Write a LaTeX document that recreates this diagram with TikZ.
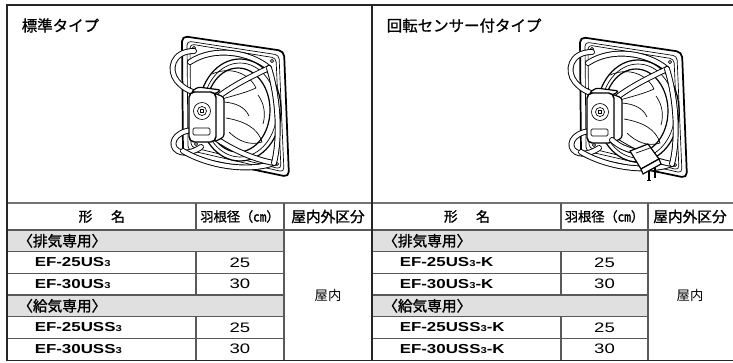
\documentclass[tikz,border=0pt]{standalone}
\usepackage{fontspec}
\setmainfont{Noto Sans CJK JP}
\newfontfamily\jpbold{Noto Sans CJK JP}[FakeBold=1.3]
\newfontfamily\jpmed{Noto Sans CJK JP}[FakeBold=0.9]
\newfontfamily\latwide{Liberation Sans}[FakeStretch=1.3]
\newfontfamily\numwide{Liberation Sans}[FakeStretch=1.35]
\newcommand{\smallthree}{{\fontsize{6.5}{7}\selectfont 3}}
\colorlet{rowgray}{black!12}
\tikzset{
  frame/.style={line width=1.4pt, draw=black!85},
  gridline/.style={line width=0.8pt, draw=black!65},
  gridtop/.style={line width=1.2pt, draw=black!55},
  titletext/.style={font=\jpmed\fontsize{11.6}{13}\selectfont, inner sep=0pt, anchor=west},
  hdr/.style={font=\jpbold\fontsize{10.3}{12}\selectfont, inner sep=0pt},
  grp/.style={font=\jpbold\fontsize{11}{12}\selectfont, inner sep=0pt, anchor=west},
  model/.style={font=\latwide\bfseries\fontsize{9.75}{11}\selectfont, inner sep=0pt, anchor=west},
  numtext/.style={font=\numwide\fontsize{10.3}{11}\selectfont, inner sep=0pt},
  jptext/.style={font=\fontsize{10}{11}\selectfont, inner sep=0pt},
  fanline/.style={line width=0.9pt, draw=black, line join=round},
  fanthin/.style={line width=0.5pt, draw=black, line join=round},
  tube/.style={draw=black, line width=0.7pt, double=white, double distance=3pt, line cap=round}
}
\newcommand{\fanbody}{%
  % back plate
  \draw[fanline, line width=1.3pt, fill=white, rounded corners=4pt] (182,36) -- (284,51) -- (289,177) -- (183,155) -- cycle;
  \draw[fanthin, rounded corners=3pt] (187,41) -- (279,55) -- (284,172) -- (188,150) -- cycle;
  \draw[fanthin, rounded corners=3pt] (190,44) -- (276,58) -- (281,169) -- (191,147) -- cycle;
  \foreach \p in {(194,48),(272,61),(277,164),(196,144)} \draw[fanthin] \p circle (1.6);
  % ring
  \draw[fanline, fill=white] (240,110) ellipse [x radius=41, y radius=51];
  \draw[fanthin] (240,110) ellipse [x radius=37, y radius=47];
  \draw[fanline] (238,110) ellipse [x radius=32, y radius=42];
  % blades
  \draw[fanthin] (212,74) .. controls (230,66) and (249,73) .. (256,88) .. controls (245,93) and (232,96) .. (222,99);
  \draw[fanthin] (226,118) .. controls (244,121) and (258,128) .. (262,142) .. controls (250,146) and (238,141) .. (229,132);
  \draw[fanthin] (224,102) .. controls (236,103) and (245,107) .. (249,116);
  \draw[fanthin] (258,95) .. controls (264,103) and (266,114) .. (263,124);
  % guard tubes
  \draw[tube] (194,51) .. controls (172,51) and (168,70) .. (177,81) .. controls (183,88) and (190,92) .. (198,93);
  \draw[tube] (190,62) .. controls (214,46) and (250,52) .. (269,68);
  \draw[tube] (269,68) .. controls (252,76) and (232,86) .. (218,97);
  \draw[tube] (192,130) .. controls (173,132) and (169,146) .. (178,151) .. controls (185,155) and (195,151) .. (201,147);
  \draw[tube] (183,151) .. controls (210,167) and (250,172) .. (274,163);
  \draw[tube] (214,137) .. controls (232,150) and (256,160) .. (274,163);
  \draw[tube] (274,163) .. controls (280,140) and (279,100) .. (269,68);
  % motor
  \draw[fanline, fill=white, rounded corners=2pt] (214,93) -- (224,97) -- (224,137) -- (214,142) -- cycle;
  \draw[fanline, fill=white, rounded corners=2pt] (191,92) -- (198,87) -- (221,90) -- (215,94) -- cycle;
  \draw[fanline, line width=1.1pt, fill=white, rounded corners=4pt] (189,92) rectangle (216,142);
  \draw[fanthin] (202,111) circle (8.5);
  \draw[fanthin] (202,111) circle (4.5);
  \draw[fanthin] (200.3,109.3) rectangle (203.7,112.7);
  \draw[fanthin, rounded corners=1pt] (193,128) rectangle (210,135);
}
\begin{document}
\begin{tikzpicture}[x=0.75pt, y=-0.75pt]
\useasboundingbox (0,0) rectangle (733,362);
\fill[white] (0,0) rectangle (733,362);

% ---------- fans ----------
\fanbody
\begin{scope}[shift={(398,1)}]
  \fanbody
  % sensor box and cord
  \draw[tube] (214,139) .. controls (222,146) and (228,148) .. (236,150);
  \draw[fanline, fill=white] (232,150) -- (250,143) -- (261,158) -- (243,168) -- cycle;
  \draw[fanline, fill=white] (243,168) -- (261,158) -- (263,163) -- (245,173) -- cycle;
  \draw[fanthin] (238,152) -- (252,147);
  \draw[fanline] (251,170) -- (251,179);
  \draw[fanline] (257,167) -- (257,177);
  \draw[fanthin] (249,179) -- (253,179);
\end{scope}

% ---------- table fills ----------
\fill[rowgray] (7,230) rectangle (284,251.7);
\fill[rowgray] (7,295) rectangle (284,316.7);
\fill[rowgray] (372,230) rectangle (648,251.7);
\fill[rowgray] (372,295) rectangle (648,316.7);

% ---------- grid ----------
\draw[gridtop] (7,203) -- (733,203);
\draw[gridline] (7,230) -- (733,230);
\foreach \y in {251.7,273.3,295,316.7,338.3} {
  \draw[gridline] (7,\y) -- (284,\y);
  \draw[gridline] (372,\y) -- (648,\y);
}
\foreach \x in {196,561} {
  \draw[gridline] (\x,203) -- (\x,230);
  \draw[gridline] (\x,251.7) -- (\x,295);
  \draw[gridline] (\x,316.7) -- (\x,360.5);
}
\draw[gridline] (284,203) -- (284,360.5);
\draw[gridline] (648,203) -- (648,360.5);

% ---------- frame ----------
\draw[frame] (733,5) -- (7,5) -- (7,360.5) -- (733,360.5);
\draw[frame] (372,5) -- (372,360.5);

% ---------- titles ----------
\node[titletext] (tleft) at (21.5,25.5) {標準タイプ};
\node[titletext] (tright) at (386.5,25.5) {回転センサー付タイプ};

% ---------- left table ----------
\node[hdr] (lh1a) at (85.5,216.5) {形};
\node[hdr] (lh1b) at (118,216.5) {名};
\node[hdr, font=\jpbold\fontsize{9.9}{12}\selectfont] (lh2) at (240,216.5) {羽根径（㎝）};
\node[hdr, font=\jpbold\fontsize{11}{12}\selectfont] (lh3) at (328,216.5) {屋内外区分};
\node[grp] (lg1) at (18,240.8) {〈排気専用〉};
\node[model] (lm1) at (34.5,262.5) {EF-25US\smallthree};
\node[model] (lm2) at (34.5,284.2) {EF-30US\smallthree};
\node[grp] (lg2) at (18,305.8) {〈給気専用〉};
\node[model] (lm3) at (34.5,327.5) {EF-25USS\smallthree};
\node[model] (lm4) at (34.5,349.2) {EF-30USS\smallthree};
\node[numtext] (ln1) at (240,262.5) {25};
\node[numtext] (ln2) at (240,284.2) {30};
\node[numtext] (ln3) at (240,327.5) {25};
\node[numtext] (ln4) at (240,349.2) {30};
\node[jptext] (lin) at (328,295) {屋内};

% ---------- right table ----------
\node[hdr] (rh1a) at (450.8,216.5) {形};
\node[hdr] (rh1b) at (483,216.5) {名};
\node[hdr, font=\jpbold\fontsize{9.9}{12}\selectfont] (rh2) at (604.5,216.5) {羽根径（㎝）};
\node[hdr, font=\jpbold\fontsize{11}{12}\selectfont] (rh3) at (690,216.5) {屋内外区分};
\node[grp] (rg1) at (383,240.8) {〈排気専用〉};
\node[model] (rm1) at (399.5,262.5) {EF-25US\smallthree-K};
\node[model] (rm2) at (399.5,284.2) {EF-30US\smallthree-K};
\node[grp] (rg2) at (383,305.8) {〈給気専用〉};
\node[model] (rm3) at (399.5,327.5) {EF-25USS\smallthree-K};
\node[model] (rm4) at (399.5,349.2) {EF-30USS\smallthree-K};
\node[numtext] (rn1) at (604.5,262.5) {25};
\node[numtext] (rn2) at (604.5,284.2) {30};
\node[numtext] (rn3) at (604.5,327.5) {25};
\node[numtext] (rn4) at (604.5,349.2) {30};
\node[jptext] (rin) at (690,295) {屋内};
\end{tikzpicture}
\end{document}
